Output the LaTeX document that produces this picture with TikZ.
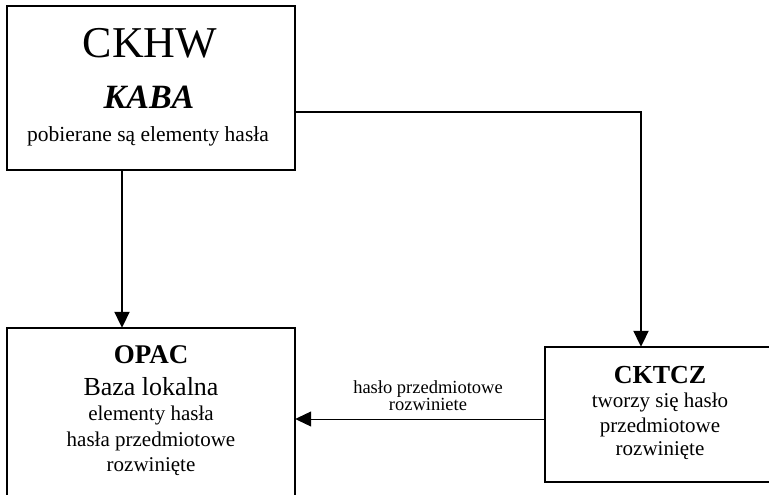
\documentclass[tikz,border=0pt]{standalone}
\usepackage{fontspec}
\setmainfont{Liberation Serif}
\usetikzlibrary{arrows.meta}
\newcommand{\fsz}[1]{\fontsize{#1}{#1}\selectfont}

\begin{document}
\begin{tikzpicture}[x=1pt,y=-1pt,
  box/.style={draw,line width=2pt,inner sep=0pt},
  openbox/.style={inner sep=0pt},
  edge/.style={line width=2pt},
  link/.style={line width=2pt,-{Triangle[width=15pt,length=16pt]}},
  thinlink/.style={line width=1pt,-{Triangle[width=15pt,length=16pt]}},
  txt/.style={inner sep=0pt,anchor=base}]

\useasboundingbox (0,0) rectangle (769,495);

% boxes (the lower two run off the page)
\node [box,minimum width=288pt,minimum height=164pt] (ckhw) at (151,88) {};
\node [openbox,minimum width=288pt,minimum height=192pt] (opac) at (151,424) {};
\node [openbox,minimum width=224pt,minimum height=135pt] (cktcz) at (657,414.5) {};
\draw [edge] (opac.south west) -- (opac.north west) -- (opac.north east) -- (opac.south east);
\draw [edge] (cktcz.north east) -- (cktcz.north west) -- (cktcz.south west) -- (cktcz.south east);

% texts in the boxes
\node [txt] (ckhwname) at (150,58)  {\fsz{44}CKHW};
\node [txt] (kaba)     at (149,108) {\fsz{34}\bfseries\itshape KABA};
\node [txt] (ckhwtxt)  at (148,142) {\fsz{21.5}pobierane są elementy hasła};

\node [txt] (opacname) at (151,363) {\fsz{27}\bfseries OPAC};
\node [txt] (baza)     at (151,395) {\fsz{26}Baza lokalna};
\node [txt] (opactxt1) at (151,420) {\fsz{21}elementy hasła};
\node [txt] (opactxt2) at (151,446) {\fsz{21}hasła przedmiotowe};
\node [txt] (opactxt3) at (151,471) {\fsz{21}rozwinięte};

\node [txt] (cktczname) at (660,383) {\fsz{26}\bfseries CKTCZ};
\node [txt] (cktcztxt1) at (660,407) {\fsz{21}tworzy się hasło};
\node [txt] (cktcztxt2) at (660,432) {\fsz{21}przedmiotowe};
\node [txt] (cktcztxt3) at (660,455) {\fsz{21}rozwinięte};

% connectors
\coordinate (bend) at (641,112);
\draw [link] (ckhw.south -| 122,0) -- (opac.north -| 122,0);
\draw [link] (ckhw.east |- bend) -| (cktcz.north -| bend);
\draw [thinlink] (cktcz.west |- 0,419) -- (opac.east |- 0,419);

\node [txt] (lbl1) at (428,393) {\fsz{18.5}hasło przedmiotowe};
\node [txt] (lbl2) at (428,410) {\fsz{18.5}rozwiniete};

\end{tikzpicture}
\end{document}
